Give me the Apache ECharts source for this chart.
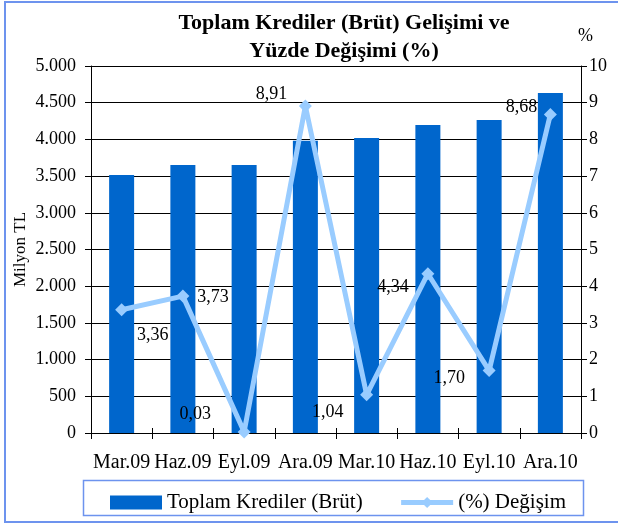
<!DOCTYPE html>
<html><head><meta charset="utf-8">
<script src="https://cdn.jsdelivr.net/npm/echarts@6/dist/echarts.min.js"></script>
<style>html,body{margin:0;padding:0;background:#fff}#c{width:618px;height:524px}</style>
</head><body><div id="c"></div>
<script>
const categories = ['Mar.09','Haz.09','Eyl.09','Ara.09','Mar.10','Haz.10','Eyl.10','Ara.10'];
const krediler = [3515, 3651, 3652, 3982, 4019, 4196, 4264, 4632];
const degisim = [3.36, 3.73, 0.03, 8.91, 1.04, 4.34, 1.70, 8.68];
const leftTicks = [0, 500, 1000, 1500, 2000, 2500, 3000, 3500, 4000, 4500, 5000];
const rightTicks = [0, 1, 2, 3, 4, 5, 6, 7, 8, 9, 10];

const labelOffsets = [[31,26],[30,1],[-49,-18],[-34,-12],[-39,17],[-35,14],[-40,8],[-29,-7]];
const FONT = 'Liberation Serif';

const chart = echarts.init(document.getElementById('c'), null, {renderer:'canvas'});
const fmtThousands = v => String(v).replace(/\B(?=(\d{3})+(?!\d))/g, '.');
const legendText = {fontFamily: FONT, fontSize: 21, color: '#000'};

chart.setOption({
  animation: false,
  backgroundColor: '#fff',
  textStyle: {fontFamily: FONT},
  title: {
    text: 'Toplam Krediler (Brüt) Gelişimi ve\nYüzde Değişimi (%)',
    left: 339, top: 4, textAlign: 'center',
    textStyle: {fontFamily: FONT, fontSize: 22, fontWeight: 'bold', color: '#000', lineHeight: 28}
  },
  grid: {left: 91, right: 37, top: 66, bottom: 91, containLabel: false},
  legend: {
    left: 105, top: 487, itemWidth: 52, itemHeight: 14, itemGap: 36,
    textStyle: legendText,
    lineStyle: {width: 5},
    data: [{name: 'Toplam Krediler (Brüt)', icon: 'rect', textStyle: legendText},
           {name: '(%) Değişim', textStyle: legendText}]
  },
  xAxis: [{
    type: 'category', data: categories, boundaryGap: true,
    axisLine: {lineStyle: {color: '#000', width: 1}},
    axisTick: {show: true, length: 6, lineStyle: {color: '#000'}},
    axisLabel: {fontFamily: FONT, fontSize: 20, color: '#000', margin: 20, interval: 0}
  },{
    type: 'category', data: categories, boundaryGap: true, position: 'bottom',
    axisLine: {show: false},
    axisTick: {show: true, inside: true, length: 5, lineStyle: {color: '#000'}},
    axisLabel: {show: false}
  }],
  yAxis: [{
    type: 'value', min: leftTicks[0], max: leftTicks[leftTicks.length-1], interval: 500,
    name: 'Milyon TL', nameLocation: 'middle', nameGap: 62, nameRotate: 90, nameMoveOverlap: false,
    nameTextStyle: {fontFamily: FONT, fontSize: 17, color: '#000'},
    axisLine: {show: true, lineStyle: {color: '#000'}},
    axisTick: {show: true, length: 6, lineStyle: {color: '#000'}},
    splitLine: {show: true, lineStyle: {color: '#000', width: 1}},
    axisLabel: {fontFamily: FONT, fontSize: 18, color: '#000', margin: 15, formatter: v => fmtThousands(v)}
  },{
    type: 'value', min: rightTicks[0], max: rightTicks[rightTicks.length-1], interval: 1,
    position: 'right',
    axisLine: {show: true, lineStyle: {color: '#000'}},
    axisTick: {show: true, length: 6, lineStyle: {color: '#000'}},
    splitLine: {show: false},
    axisLabel: {fontFamily: FONT, fontSize: 18, color: '#000', margin: 8}
  }],
  series: [{
    name: 'Toplam Krediler (Brüt)', type: 'bar', data: krediler, barWidth: 25,
    itemStyle: {color: '#0066cc'}, yAxisIndex: 0, z: 2
  },{
    name: '(%) Değişim', type: 'line', yAxisIndex: 1, z: 5,
    data: degisim.map((v, i) => ({value: v, label: {offset: labelOffsets[i]}})),
    symbol: 'diamond', symbolSize: 13, lineStyle: {color: '#99ccff', width: 5},
    itemStyle: {color: '#99ccff'},
    label: {show: true, position: 'inside', fontFamily: FONT, fontSize: 18, color: '#000',
      formatter: p => p.value.toFixed(2).replace('.', ',')}
  }],
  graphic: [
    {type: 'rect', shape: {x: 5, y: 2, width: 630, height: 520}, style: {fill: null, stroke: '#6d93ee', lineWidth: 2}, silent: true, z: -1},
    {type: 'rect', shape: {x: 83.5, y: 480.5, width: 500, height: 35}, style: {fill: null, stroke: '#6d93ee', lineWidth: 1.5}, silent: true, z: -1},
    {type: 'text', left: 578, top: 27, style: {text: '%', font: '18px "Liberation Serif"', fill: '#000'}}
  ]
});
</script></body></html>
